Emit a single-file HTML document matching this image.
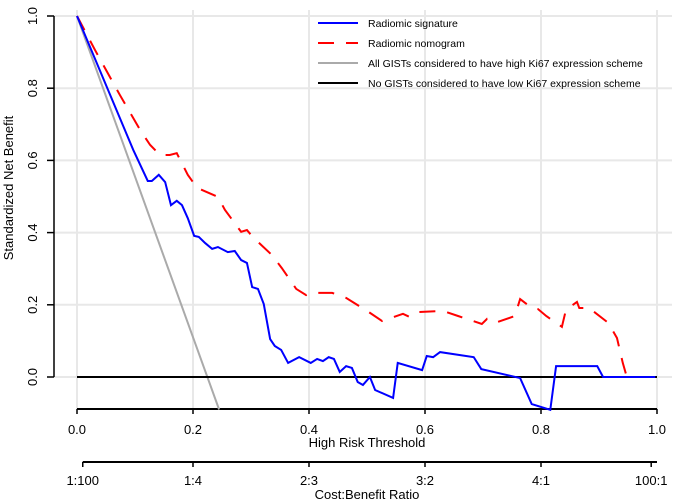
<!DOCTYPE html>
<html><head><meta charset="utf-8"><style>
body{margin:0;background:#fff;}
svg{display:block;font-family:"Liberation Sans",Arial,sans-serif;}
</style></head><body>
<svg id="c" width="685" height="504" viewBox="0 0 685 504"></svg>
<script>
const xTicks=[0,0.2,0.4,0.6,0.8,1.0];
const xTickLabels=["0.0","0.2","0.4","0.6","0.8","1.0"];
const yTicks=[0,0.2,0.4,0.6,0.8,1.0];
const yTickLabels=["0.0","0.2","0.4","0.6","0.8","1.0"];
const cbTicks=[0.0099,0.2,0.4,0.6,0.8,0.99];
const cbLabels=["1:100","1:4","2:3","3:2","4:1","100:1"];
const sigX=[0,.097,.122,.129,.141,.152,.162,.172,.181,.191,.202,.210,.221,.233,.243,.260,.272,.283,.293,.302,.312,.322,.333,.341,.352,.364,.383,.403,.414,.424,.434,.443,.453,.464,.474,.484,.493,.505,.514,.545,.553,.595,.603,.614,.626,.684,.697,.764,.784,.816,.826,.897,.907,.997];
const sigY=[1,.629,.543,.543,.560,.540,.476,.488,.476,.440,.391,.388,.371,.355,.360,.346,.349,.324,.316,.249,.244,.202,.105,.086,.075,.039,.055,.039,.050,.044,.055,.050,.014,.030,.025,-.014,-.022,0,-.036,-.058,.039,.019,.058,.055,.069,.055,.022,-.003,-.075,-.091,.030,.030,0,0];
const nomX=[0,.031,.074,.109,.126,.143,.160,.172,.191,.207,.243,.255,.283,.293,.303,.336,.353,.378,.395,.402,.440,.464,.503,.526,.562,.574,.590,.631,.657,.698,.707,.721,.755,.764,.784,.795,.809,.836,.843,.862,.866,.883,.916,.931,.941,.948,.997];
const nomY=[1,.906,.781,.684,.643,.615,.615,.620,.560,.524,.499,.463,.402,.407,.388,.338,.302,.244,.227,.233,.233,.219,.180,.155,.175,.166,.180,.183,.169,.147,.161,.150,.169,.216,.191,.188,.169,.139,.186,.208,.191,.191,.150,.108,.039,0,0];
const allX=[0,0.245];
const allY=[1,-0.09];
const X=v=>77+v*580, Y=v=>377-v*361;
const svg=document.getElementById('c');
const NS='http://www.w3.org/2000/svg';
function mk(t,a,p){const e=document.createElementNS(NS,t);for(const k in a)e.setAttribute(k,a[k]);(p||svg).appendChild(e);return e;}
xTicks.forEach(v=>{const e=mk('line',{x1:X(v),x2:X(v),y1:10,y2:409,stroke:'#e8e8e8','stroke-width':2});

});
yTicks.forEach(v=>{const e=mk('line',{x1:54,x2:672,y1:Y(v),y2:Y(v),stroke:'#e8e8e8','stroke-width':2});

});
let ya=mk('line',{x1:54,x2:54,y1:Y(1),y2:Y(0),stroke:'#000','stroke-width':1.5});


yTicks.forEach((v,i)=>{mk('line',{x1:47,x2:54,y1:Y(v),y2:Y(v),stroke:'#000','stroke-width':1.5});
const t=mk('text',{x:0,y:0,transform:`translate(37,${Y(v)}) rotate(-90)`,'text-anchor':'middle','font-size':13,fill:'#000'});t.textContent=yTickLabels[i];

});
let yt=mk('text',{transform:'translate(13,188) rotate(-90)','text-anchor':'middle','font-size':13});yt.textContent='Standardized Net Benefit';


let xa=mk('line',{x1:X(0),x2:X(1),y1:409,y2:409,stroke:'#000','stroke-width':2});


xTicks.forEach((v,i)=>{mk('line',{x1:X(v),x2:X(v),y1:409,y2:414,stroke:'#000','stroke-width':1.5});
const t=mk('text',{x:X(v),y:434,'text-anchor':'middle','font-size':13});t.textContent=xTickLabels[i];

});
let xt=mk('text',{x:367,y:447,'text-anchor':'middle','font-size':13});xt.textContent='High Risk Threshold';


let ca=mk('line',{x1:X(cbTicks[0]),x2:X(1),y1:462,y2:462,stroke:'#000','stroke-width':2});


cbTicks.forEach((v,i)=>{mk('line',{x1:X(v),x2:X(v),y1:462,y2:467,stroke:'#000','stroke-width':1.5});
const t=mk('text',{x:X(v),y:485,'text-anchor':'middle','font-size':13});t.textContent=cbLabels[i];

});
let ct=mk('text',{x:367,y:499,'text-anchor':'middle','font-size':13});ct.textContent='Cost:Benefit Ratio';


const pts=(xs,ys)=>xs.map((x,i)=>X(x)+','+Y(ys[i])).join(' ');
let al=mk('polyline',{points:pts(allX,allY),fill:'none',stroke:'#aaa','stroke-width':2});


let nl=mk('line',{x1:X(0),x2:X(1),y1:Y(0),y2:Y(0),stroke:'#000','stroke-width':2});


let nm=mk('polyline',{points:pts(nomX,nomY),fill:'none',stroke:'#ff0000','stroke-width':2,'stroke-dasharray':'16,12'});


let sg=mk('polyline',{points:pts(sigX,sigY),fill:'none',stroke:'#0000ff','stroke-width':2});


const legNames=['Radiomic signature','Radiomic nomogram','All GISTs considered to have high Ki67 expression scheme','No GISTs considered to have low Ki67 expression scheme'];
const legCols=['#0000ff','#ff0000','#aaa','#000'];
legNames.forEach((n,i)=>{const y=23+i*20;
const g=mk('g',{});


const l=mk('line',{x1:318,x2:358,y1:y,y2:y,stroke:legCols[i],'stroke-width':2},g);
if(i==1)l.setAttribute('stroke-dasharray','16,12');
const t=mk('text',{x:368,y:y+4,'font-size':10.5},g);t.textContent=n;});
</script>
</body></html>
